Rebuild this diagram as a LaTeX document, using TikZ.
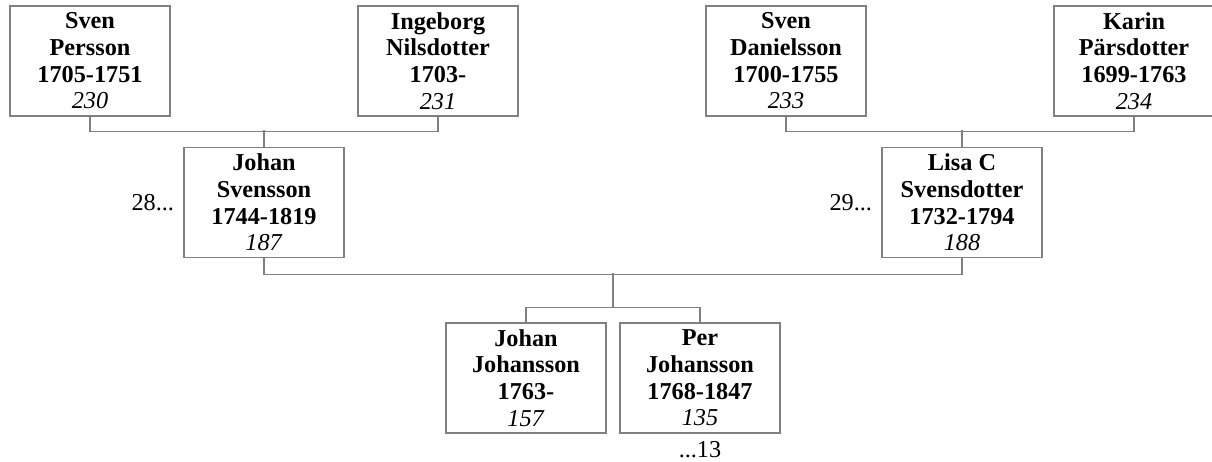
\documentclass[tikz,border=0pt]{standalone}
\usepackage{fontspec}
\setmainfont{Liberation Serif}
\usetikzlibrary{positioning}
\definecolor{linegray}{RGB}{128,128,128}

\begin{document}
\begin{tikzpicture}[
	person/.style={draw=linegray, line width=0.8pt, rectangle, minimum width=3.2cm, minimum height=2.2cm,
		align=center, inner sep=1pt, font=\fontsize{13.8pt}{15.2pt}\selectfont},
	link/.style={draw=linegray, line width=0.8pt},
	more/.style={inner sep=0pt, font=\fontsize{13.8pt}{15.2pt}\selectfont}]
		\useasboundingbox (0,0) rectangle (24.24,-9.24);
		\node[person] (p230)at(1.8,-1.22) {\textbf{Sven}\\\textbf{Persson}\\\textbf{1705-1751}\\\textit{230}};
		\node[person] (p231)at(8.76,-1.22) {\textbf{Ingeborg}\\\textbf{Nilsdotter}\\\textbf{1703-}\\\textit{231}};
		\node[person] (p233)at(15.72,-1.22) {\textbf{Sven}\\\textbf{Danielsson}\\\textbf{1700-1755}\\\textit{233}};
		\node[person] (p234)at(22.68,-1.22) {\textbf{Karin}\\\textbf{Pärsdotter}\\\textbf{1699-1763}\\\textit{234}};
		\node[person] (p187)at(5.28,-4.05) {\textbf{Johan}\\\textbf{Svensson}\\\textbf{1744-1819}\\\textit{187}};
		\node[person] (p188)at(19.24,-4.05) {\textbf{Lisa C}\\\textbf{Svensdotter}\\\textbf{1732-1794}\\\textit{188}};
		\node[person] (p157)at(10.52,-7.56) {\textbf{Johan}\\\textbf{Johansson}\\\textbf{1763-}\\\textit{157}};
		\node[person] (p135)at(14.00,-7.56) {\textbf{Per}\\\textbf{Johansson}\\\textbf{1768-1847}\\\textit{135}};
		\node[more, left=0.18cm of p187] (m28) {28...};
		\node[more, left=0.18cm of p188] (m29) {29...};
		\node[more, below=0.14cm of p135] (m13) {...13};
		\coordinate (parents)at(12.26,-5.46);
		\coordinate (kids)at(12.26,-6.16);
		\draw[link] (p230.south) -- ++(0,-0.3) -| (p231.south);
		\draw[link] (p187.north) -- ++(0,0.34);
		\draw[link] (p233.south) -- ++(0,-0.3) -| (p234.south);
		\draw[link] (p188.north) -- ++(0,0.34);
		\draw[link] (p187.south) -- ++(0,-0.32) -| (p188.south);
		\draw[link] (parents) -- (kids);
		\draw[link] (p157.north) -- ++(0,0.3) -| (p135.north);
		\end{tikzpicture}
\end{document}
